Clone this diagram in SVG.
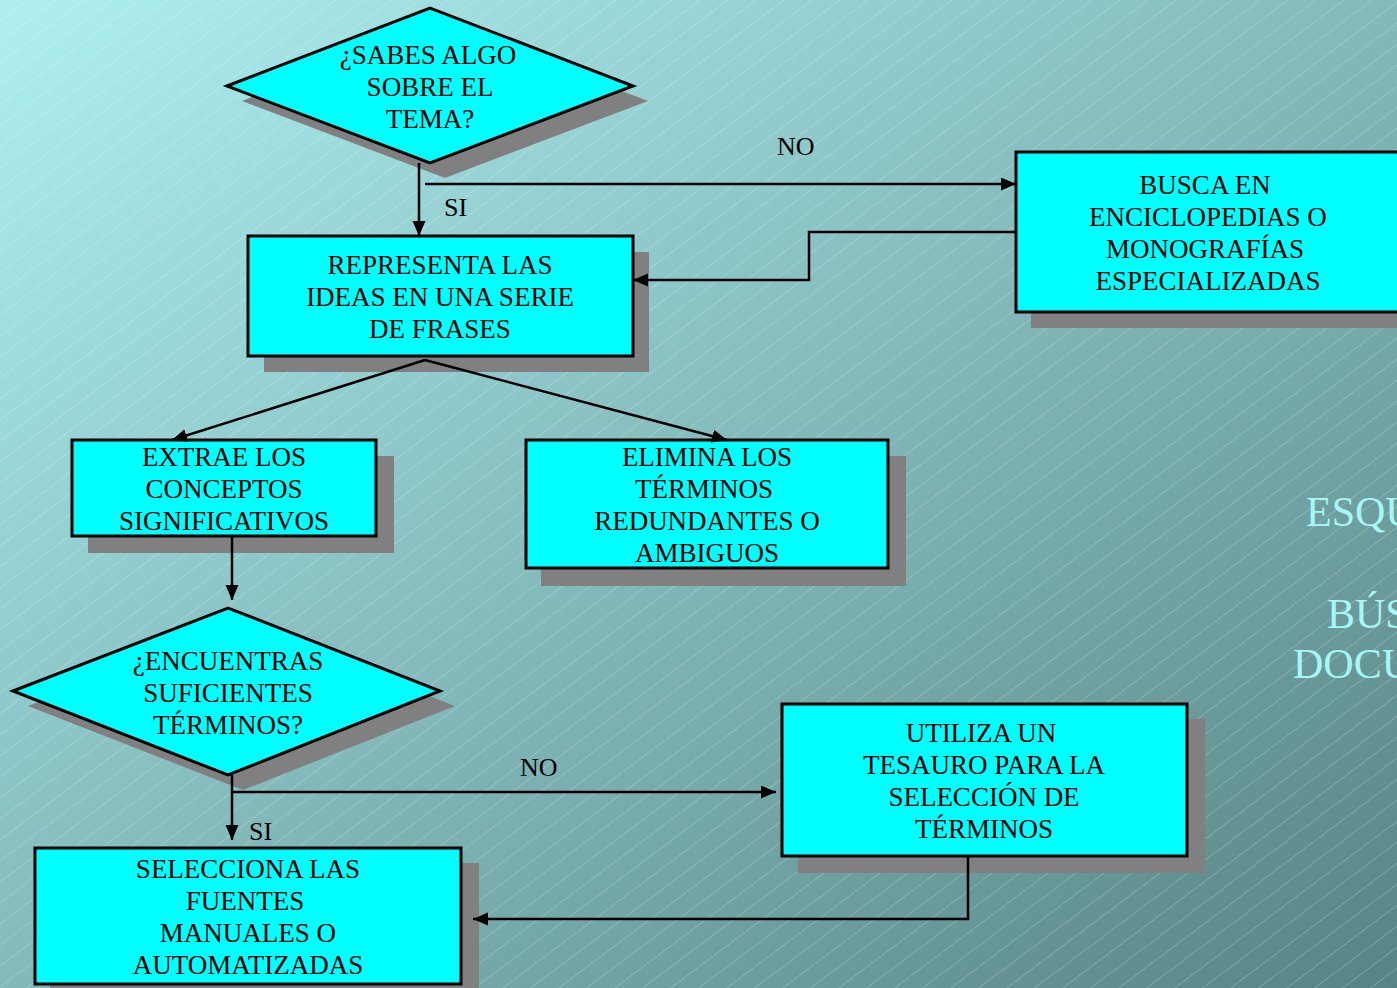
<svg xmlns="http://www.w3.org/2000/svg" width="1397" height="988" viewBox="0 0 1397 988">
<defs>
<linearGradient id="bg" x1="0" y1="0" x2="1" y2="1">
<stop offset="0" stop-color="#aef0f2"/>
<stop offset="1" stop-color="#588384"/>
</linearGradient>
<pattern id="hatch" patternUnits="userSpaceOnUse" width="28" height="21">
<path d="M-7 26.25 L35 -5.25" stroke="#ffffff" stroke-opacity="0.3" stroke-width="0.8"/>
</pattern>
<marker id="arr" markerUnits="userSpaceOnUse" markerWidth="16" markerHeight="14" refX="15" refY="6.5" orient="auto">
<path d="M0,0 L15,6.5 L0,13 z" fill="#000"/>
</marker>
</defs>
<style>
.sh{fill:#808080}
.bx{fill:#00ffff;stroke:#000;stroke-width:3}
.t{font-family:"Liberation Serif","Times New Roman",serif;font-size:27px;fill:#000;text-anchor:middle}
.lb{font-family:"Liberation Serif","Times New Roman",serif;font-size:26px;fill:#000}
.c{fill:none;stroke:#000;stroke-width:2.5}
.side{font-family:"Liberation Serif","Times New Roman",serif;font-size:42px;fill:#a8f6f6}
</style>
<rect width="1397" height="988" fill="url(#bg)"/>
<rect width="1397" height="988" fill="url(#hatch)"/>

<g id="side-title">
<text class="side" x="1306" y="526">ESQU</text>
<text class="side" x="1327" y="628">BÚS</text>
<text class="side" x="1293" y="678">DOCU</text>
</g>

<g id="n-sabes">
<polygon class="sh" points="242,101 445,23 648,101 445,178"/>
<polygon class="bx" points="227,86 430,8 633,86 430,163"/>
<text class="t" x="428" y="64">¿SABES ALGO</text>
<text class="t" x="430" y="96">SOBRE EL</text>
<text class="t" x="430" y="128">TEMA?</text>
</g>

<g id="n-representa">
<rect class="sh" x="264" y="252" width="385" height="120"/>
<rect class="bx" x="248" y="236" width="385" height="120"/>
<text class="t" x="440" y="274">REPRESENTA LAS</text>
<text class="t" x="440" y="306">IDEAS EN UNA SERIE</text>
<text class="t" x="440" y="338">DE FRASES</text>
</g>

<g id="n-busca">
<rect class="sh" x="1031" y="168" width="400" height="160"/>
<rect class="bx" x="1016" y="152" width="400" height="160"/>
<text class="t" x="1205" y="194">BUSCA EN</text>
<text class="t" x="1208" y="226">ENCICLOPEDIAS O</text>
<text class="t" x="1205" y="258">MONOGRAFÍAS</text>
<text class="t" x="1208" y="290">ESPECIALIZADAS</text>
</g>

<g id="n-extrae">
<rect class="sh" x="88" y="456" width="306" height="97"/>
<rect class="bx" x="72" y="440" width="304" height="96"/>
<text class="t" x="224" y="466">EXTRAE LOS</text>
<text class="t" x="224" y="498">CONCEPTOS</text>
<text class="t" x="224" y="530">SIGNIFICATIVOS</text>
</g>

<g id="n-elimina">
<rect class="sh" x="541" y="456" width="365" height="130"/>
<rect class="bx" x="526" y="440" width="362" height="128"/>
<text class="t" x="707" y="466">ELIMINA LOS</text>
<text class="t" x="704" y="498">TÉRMINOS</text>
<text class="t" x="707" y="530">REDUNDANTES O</text>
<text class="t" x="707" y="562">AMBIGUOS</text>
</g>

<g id="n-encuentras">
<polygon class="sh" points="28,706 243,623 455,706 243,790"/>
<polygon class="bx" points="13,691 228,608 440,691 228,775"/>
<text class="t" x="228" y="670">¿ENCUENTRAS</text>
<text class="t" x="228" y="702">SUFICIENTES</text>
<text class="t" x="228" y="734">TÉRMINOS?</text>
</g>

<g id="n-utiliza">
<rect class="sh" x="798" y="719" width="407" height="154"/>
<rect class="bx" x="782" y="704" width="405" height="152"/>
<text class="t" x="981" y="742">UTILIZA UN</text>
<text class="t" x="984" y="774">TESAURO PARA LA</text>
<text class="t" x="984" y="806">SELECCIÓN DE</text>
<text class="t" x="984" y="838">TÉRMINOS</text>
</g>

<g id="n-selecciona">
<rect class="sh" x="50" y="863" width="429" height="140"/>
<rect class="bx" x="35" y="848" width="426" height="136"/>
<text class="t" x="248" y="878">SELECCIONA LAS</text>
<text class="t" x="245" y="910">FUENTES</text>
<text class="t" x="248" y="942">MANUALES O</text>
<text class="t" x="248" y="974">AUTOMATIZADAS</text>
</g>

<g id="connectors">
<line class="c" x1="419" y1="163" x2="419" y2="236" marker-end="url(#arr)"/>
<line class="c" x1="425" y1="184" x2="1016" y2="184" marker-end="url(#arr)"/>
<polyline class="c" points="1016,232 809,232 809,280 633,280" marker-end="url(#arr)"/>
<line class="c" x1="425" y1="360" x2="172" y2="440" marker-end="url(#arr)"/>
<line class="c" x1="425" y1="360" x2="727" y2="440" marker-end="url(#arr)"/>
<line class="c" x1="232" y1="536" x2="232" y2="600" marker-end="url(#arr)"/>
<line class="c" x1="232" y1="775" x2="232" y2="840" marker-end="url(#arr)"/>
<line class="c" x1="232" y1="792" x2="776" y2="792" marker-end="url(#arr)"/>
<polyline class="c" points="968,856 968,919 473,919" marker-end="url(#arr)"/>
<text class="lb" x="444" y="216">SI</text>
<text class="lb" x="777" y="155">NO</text>
<text class="lb" x="249" y="840">SI</text>
<text class="lb" x="520" y="776">NO</text>
</g>
</svg>
